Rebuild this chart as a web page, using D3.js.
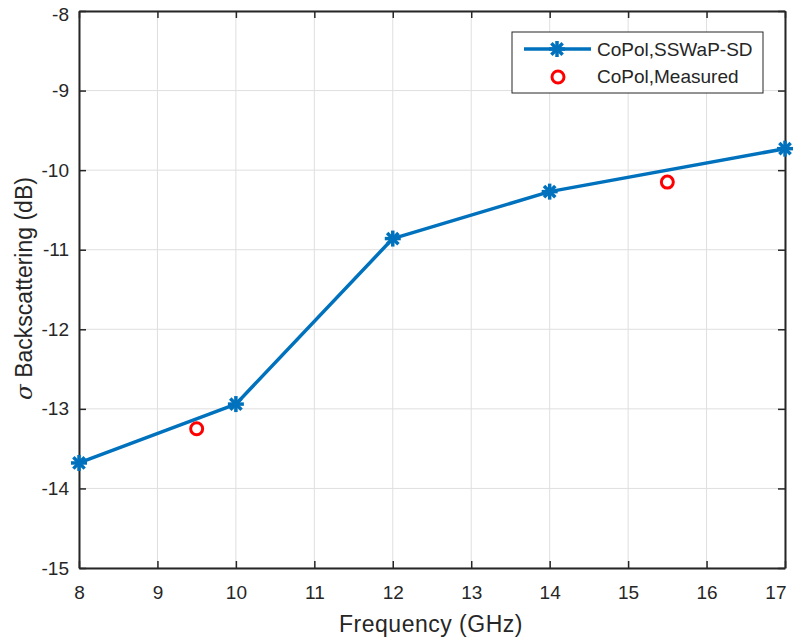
<!DOCTYPE html>
<html>
<head>
<meta charset="utf-8">
<script src="https://cdn.jsdelivr.net/npm/d3@7"></script>
<style>
  html, body { margin: 0; padding: 0; background: #fff; }
  svg text { font-family: "Liberation Sans", Arial, sans-serif; fill: #262626; }
</style>
</head>
<body>
<svg id="chart" width="794" height="638"></svg>
<script>
// Simulated co-polar backscattering (SSWaP-SD) and measured points
const simFreq = [8, 10, 12, 14, 17];
const simSigma = [-13.68, -12.94, -10.86, -10.27, -9.73];
const measFreq = [9.5, 15.5];
const measSigma = [-13.25, -10.15];
const xTicks = [8, 9, 10, 11, 12, 13, 14, 15, 16, 17];
const yTicks = [-8, -9, -10, -11, -12, -13, -14, -15];
const seriesNames = ["CoPol,SSWaP-SD", "CoPol,Measured"];

const svg = d3.select("#chart");
const L = 79, R = 785, T = 11, B = 568;
const x = d3.scaleLinear().domain([8, 17]).range([L, R]);
const y = d3.scaleLinear().domain([-15, -8]).range([B, T]);
const axisColor = "#262626";
const blue = "#0072BD";
const red = "#FF0000";

// grid
const grid = svg.append("g");
grid.selectAll("line.vx").data(xTicks).join("line")
  .attr("x1", d => x(d)).attr("x2", d => x(d)).attr("y1", T).attr("y2", B)
  .attr("stroke", "#dfdfdf").attr("stroke-width", 1);
grid.selectAll("line.hy").data(yTicks).join("line")
  .attr("x1", L).attr("x2", R).attr("y1", d => y(d)).attr("y2", d => y(d))
  .attr("stroke", "#dfdfdf").attr("stroke-width", 1);

// axes (ticks inward, box on)
const tickLen = 7;
const fmt = d => d3.format("d")(d).replace("\u2212", "-");
const xAxisB = d3.axisBottom(x).tickValues(xTicks).tickSize(-tickLen).tickSizeOuter(0).tickPadding(18).tickFormat(fmt);
const xAxisT = d3.axisTop(x).tickValues(xTicks).tickSize(-tickLen).tickSizeOuter(0).tickFormat("");
const yAxisL = d3.axisLeft(y).tickValues(yTicks).tickSize(-tickLen).tickSizeOuter(0).tickPadding(10).tickFormat(fmt);
const yAxisR = d3.axisRight(y).tickValues(yTicks).tickSize(-tickLen).tickSizeOuter(0).tickFormat("");

function styleAxis(g) {
  g.attr("font-size", null).attr("font-family", null);
  g.select(".domain").attr("stroke", axisColor).attr("stroke-width", 2);
  g.selectAll(".tick line").attr("stroke", axisColor).attr("stroke-width", 1.5);
  g.selectAll(".tick text").style("font-size", "19px").style("fill", axisColor);
}
const gxB = svg.append("g").attr("transform", `translate(0,${B})`).call(xAxisB).call(styleAxis);
svg.append("g").attr("transform", `translate(0,${T})`).call(xAxisT).call(styleAxis);
const gyL = svg.append("g").attr("transform", `translate(${L},0)`).call(yAxisL).call(styleAxis);
svg.append("g").attr("transform", `translate(${R},0)`).call(yAxisR).call(styleAxis);
// keep the edge labels inside the figure
gxB.selectAll(".tick text").filter(d => d === 17).attr("text-anchor", "end").attr("dx", "0.05em");
gyL.selectAll(".tick text").filter(d => d === -8).attr("dy", "0.5em");

// simulated line
const simData = simFreq.map((f, i) => [f, simSigma[i]]);
svg.append("path").datum(simData)
  .attr("d", d3.line().x(d => x(d[0])).y(d => y(d[1])))
  .attr("fill", "none").attr("stroke", blue).attr("stroke-width", 3.5)
  .attr("stroke-linejoin", "round");

// asterisk markers
function asterisk(g, cx, cy, r) {
  const a = g.append("g").attr("transform", `translate(${cx},${cy})`);
  [0, 45, 90, 135].forEach(ang => {
    const rad = ang * Math.PI / 180;
    a.append("line")
      .attr("x1", -r * Math.cos(rad)).attr("y1", -r * Math.sin(rad))
      .attr("x2", r * Math.cos(rad)).attr("y2", r * Math.sin(rad))
      .attr("stroke", blue).attr("stroke-width", 3.5);
  });
}
const markers = svg.append("g");
simData.forEach(d => asterisk(markers, x(d[0]), y(d[1]), 8));

// measured circles
svg.append("g").selectAll("circle").data(measFreq.map((f, i) => [f, measSigma[i]])).join("circle")
  .attr("cx", d => x(d[0])).attr("cy", d => y(d[1])).attr("r", 6)
  .attr("fill", "none").attr("stroke", red).attr("stroke-width", 3);

// axis labels
svg.append("text").attr("x", (L + R) / 2 - 1).attr("y", 632).attr("text-anchor", "middle")
  .style("font-size", "23px").style("letter-spacing", "0.5px").text("Frequency (GHz)");
const yl = svg.append("text").attr("transform", `translate(32,${(T + B) / 2 - 1}) rotate(-90)`)
  .attr("text-anchor", "middle").style("font-size", "23px");
yl.append("tspan").attr("font-style", "italic").attr("font-family", "'DejaVu Serif', serif").text("σ");
yl.append("tspan").text(" Backscattering (dB)");

// legend
const lg = svg.append("g");
lg.append("rect").attr("x", 512).attr("y", 32).attr("width", 251).attr("height", 61)
  .attr("fill", "#fff").attr("stroke", axisColor).attr("stroke-width", 1);
lg.append("line").attr("x1", 524).attr("x2", 591).attr("y1", 49).attr("y2", 49)
  .attr("stroke", blue).attr("stroke-width", 3.5);
asterisk(lg, 557, 49, 8);
lg.append("circle").attr("cx", 558).attr("cy", 77).attr("r", 6)
  .attr("fill", "none").attr("stroke", red).attr("stroke-width", 3);
lg.append("text").attr("x", 597).attr("y", 56).style("font-size", "19px").text(seriesNames[0]);
lg.append("text").attr("x", 597).attr("y", 83).style("font-size", "19px").text(seriesNames[1]);
</script>
</body>
</html>
